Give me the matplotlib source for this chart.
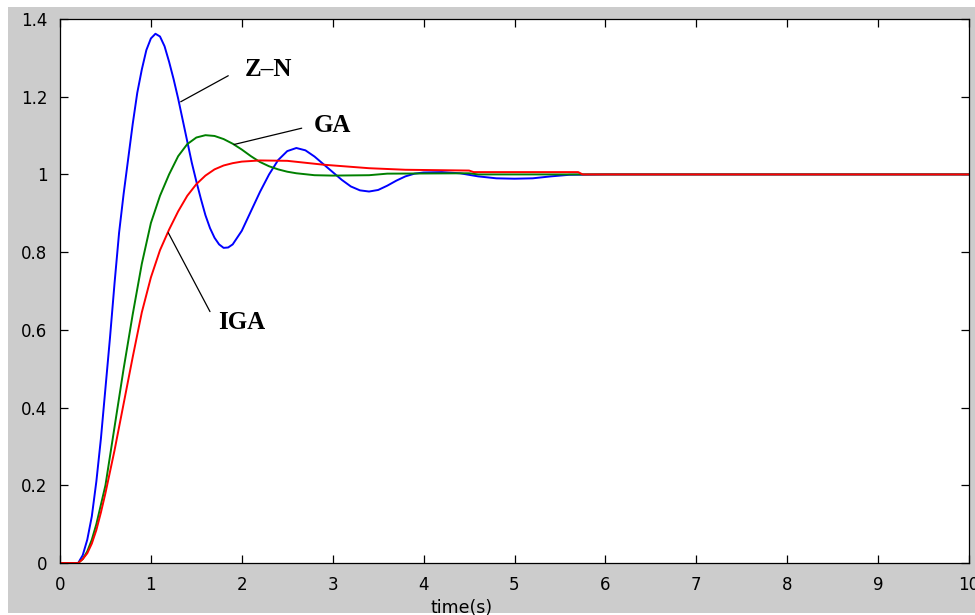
import matplotlib.pyplot as plt
from matplotlib.patches import Rectangle

# step responses
t_zn = [0, 0.2, 0.25, 0.3, 0.35, 0.4, 0.45, 0.5, 0.55, 0.6, 0.65, 0.7, 0.75, 0.8,
        0.85, 0.9, 0.95, 1.0, 1.05, 1.1, 1.15, 1.2, 1.25, 1.3, 1.35, 1.4, 1.45, 1.5,
        1.55, 1.6, 1.65, 1.7, 1.75, 1.8, 1.85, 1.9, 2.0, 2.1, 2.2, 2.3, 2.4, 2.5,
        2.6, 2.7, 2.8, 2.9, 3.0, 3.1, 3.2, 3.3, 3.4, 3.5, 3.6, 3.7, 3.8, 3.9, 4.0,
        4.2, 4.4, 4.6, 4.8, 5.0, 5.2, 5.4, 5.6, 6.0, 10.0]
y_zn = [0, 0, 0.02, 0.06, 0.12, 0.21, 0.32, 0.45, 0.58, 0.72, 0.85, 0.95, 1.04, 1.13,
        1.21, 1.27, 1.32, 1.35, 1.362, 1.355, 1.33, 1.29, 1.245, 1.195, 1.14, 1.085, 1.03, 0.982,
        0.937, 0.895, 0.862, 0.837, 0.82, 0.811, 0.812, 0.82, 0.855, 0.905, 0.955, 1.0, 1.037, 1.06,
        1.068, 1.062, 1.046, 1.026, 1.006, 0.986, 0.969, 0.959, 0.956, 0.96, 0.971, 0.984, 0.995, 1.002, 1.005,
        1.006, 1.003, 0.995, 0.99, 0.989, 0.99, 0.995, 0.999, 1.0, 1.0]

t_ga = [0, 0.2, 0.25, 0.3, 0.35, 0.4, 0.45, 0.5, 0.6, 0.7, 0.8, 0.9, 1.0, 1.1, 1.2,
        1.3, 1.4, 1.5, 1.6, 1.7, 1.8, 1.9, 2.0, 2.1, 2.2, 2.3, 2.4, 2.5, 2.6, 2.8,
        3.0, 3.4, 3.6, 4.5, 4.6, 10.0]
y_ga = [0, 0, 0.01, 0.03, 0.06, 0.1, 0.15, 0.2, 0.35, 0.5, 0.64, 0.77, 0.875, 0.945, 1.0,
        1.047, 1.078, 1.095, 1.101, 1.099, 1.091, 1.079, 1.064, 1.047, 1.032, 1.021, 1.013, 1.007, 1.003, 0.998,
        0.997, 0.998, 1.002, 1.003, 1.0, 1.0]

t_iga = [0, 0.2, 0.25, 0.3, 0.35, 0.4, 0.45, 0.5, 0.6, 0.7, 0.8, 0.9, 1.0, 1.1, 1.2,
         1.3, 1.4, 1.5, 1.6, 1.7, 1.8, 1.9, 2.0, 2.2, 2.5, 2.9, 3.4, 3.8, 4.5, 4.55,
         5.7, 5.75, 10.0]
y_iga = [0, 0, 0.01, 0.025, 0.05, 0.085, 0.13, 0.18, 0.29, 0.41, 0.53, 0.645, 0.735, 0.805, 0.858,
         0.905, 0.945, 0.975, 0.997, 1.013, 1.023, 1.029, 1.033, 1.036, 1.035, 1.025, 1.016, 1.012, 1.01, 1.006,
         1.006, 1.0, 1.0]

fig = plt.figure(figsize=(9.75, 6.15), dpi=100, facecolor='white')
fig.patches.append(Rectangle((8 / 975, 2 / 615), 1, 1 - 9 / 615, transform=fig.transFigure,
                             facecolor='#cccccc', edgecolor='none', zorder=-10))
ax = fig.add_axes([60 / 975, 52 / 615, 909 / 975, 544 / 615])
ax.set_facecolor('white')

ax.plot(t_zn, y_zn, color='#0000ff', lw=1.4)
ax.plot(t_ga, y_ga, color='#008000', lw=1.4)
ax.plot(t_iga, y_iga, color='#ff0000', lw=1.4)

ax.set_xlim(0, 10)
ax.set_ylim(0, 1.4)
ax.set_xticks(range(0, 11))
ax.set_yticks([0, 0.2, 0.4, 0.6, 0.8, 1, 1.2, 1.4])
ax.set_yticklabels(['0', '0.2', '0.4', '0.6', '0.8', '1', '1.2', '1.4'])
ax.tick_params(direction='in', length=6, width=0.9, top=True, right=True,
               labelsize=12, pad=9, colors='black')
for s in ax.spines.values():
    s.set_linewidth(0.9)

# labels with pointer lines
lab_font = dict(family='Liberation Serif', weight='bold', size=18, va='center', ha='left')
ax.annotate('', xy=(1.328, 1.187), xytext=(1.851, 1.254),
            arrowprops=dict(arrowstyle='-', color='black', lw=0.9, shrinkA=0, shrinkB=0))
ax.text(2.035, 1.271, 'Z–N', **lab_font)
ax.annotate('', xy=(1.914, 1.077), xytext=(2.659, 1.119),
            arrowprops=dict(arrowstyle='-', color='black', lw=0.9, shrinkA=0, shrinkB=0))
ax.text(2.794, 1.127, 'GA', **lab_font)
ax.annotate('', xy=(1.191, 0.850), xytext=(1.650, 0.647),
            arrowprops=dict(arrowstyle='-', color='black', lw=0.9, shrinkA=0, shrinkB=0))
ax.text(1.741, 0.619, 'IGA', **lab_font)

fig.text(462 / 975, 7 / 615, 'time(s)', ha='center', va='center', fontsize=12.5)

fig.savefig('out.png', dpi=100, facecolor=fig.get_facecolor())
